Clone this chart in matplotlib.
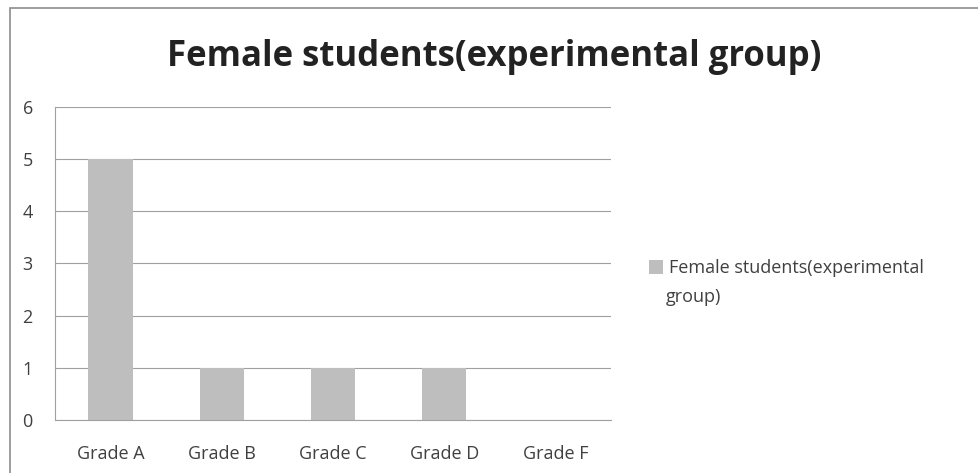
import matplotlib.pyplot as plt
from matplotlib.patches import Rectangle

grades = ["Grade A", "Grade B", "Grade C", "Grade D", "Grade F"]
counts = [5, 1, 1, 1, 0]
series_name = "Female students(experimental group)"

plt.rcParams['font.family'] = ['Open Sans', 'DejaVu Sans']

fig = plt.figure(figsize=(9.79, 4.73), dpi=100)
# chart area border
fig.patches.append(Rectangle((10 / 979, -0.01), 1.0, 1.0 - 8 / 473 + 0.01,
                             transform=fig.transFigure, fill=False,
                             edgecolor="#8c8c8c", linewidth=1.2))

ax = fig.add_axes([55 / 979, (473 - 420) / 473, (611 - 55) / 979, (420 - 107) / 473])
x = range(len(grades))
bars = ax.bar(x, counts, width=0.4, color="#bebebe", zorder=2, label=series_name)
ax.set_xlim(-0.5, len(grades) - 0.5)
ax.set_ylim(0, 6)
ax.set_yticks(range(0, 7))
ax.set_xticks(list(x))
ax.set_xticklabels(grades)
ax.yaxis.grid(True, color="#a0a0a0", linewidth=0.8, zorder=0)
for s in ["top", "right"]:
    ax.spines[s].set_visible(False)
ax.spines["left"].set_color("#a0a0a0")
ax.spines["bottom"].set_color("#a0a0a0")
ax.tick_params(axis="both", length=0, labelsize=13, colors="#404040")
ax.tick_params(axis="y", pad=16)
ax.tick_params(axis="x", pad=18)

fig.text(494 / 979, 1 - 57 / 473, series_name,
         ha="center", va="center", fontsize=25, fontweight="bold", color="#222222")

# legend: first line next to the swatch, wrapped remainder below
first, rest = "Female students(experimental", "group)"
fig.legend(handles=[bars], labels=[first],
           loc="center left", bbox_to_anchor=(640 / 979, 1 - 268 / 473),
           frameon=False, fontsize=13, handlelength=0.8, handleheight=0.8,
           handletextpad=0.3, borderpad=0, labelcolor="#404040")
fig.text(666 / 979, 1 - 297 / 473, rest, ha="left", va="center",
         fontsize=13, color="#404040")

fig.savefig("out.png", dpi=100)
